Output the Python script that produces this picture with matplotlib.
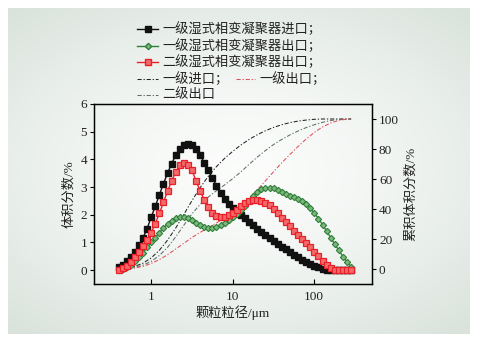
import numpy as np
import matplotlib
matplotlib.use("Agg")
import matplotlib.pyplot as plt
from matplotlib.lines import Line2D
from matplotlib.ticker import FixedLocator, NullLocator, FixedFormatter

plt.rcParams['font.family'] = ['Liberation Serif', 'Noto Sans CJK SC']
plt.rcParams['axes.unicode_minus'] = False

# particle size classes (um)
size_um = [0.400, 0.449, 0.504, 0.565, 0.634, 0.711, 0.798, 0.896, 1.005, 1.127,
           1.265, 1.419, 1.592, 1.787, 2.005, 2.249, 2.524, 2.832, 3.177, 3.565,
           4.00, 4.49, 5.04, 5.65, 6.34, 7.11, 7.98, 8.96, 10.05, 11.27,
           12.65, 14.19, 15.92, 17.87, 20.05, 22.49, 25.24, 28.32, 31.77, 35.65,
           40.0, 44.9, 50.4, 56.5, 63.4, 71.1, 79.8, 89.6, 100.5, 112.7,
           126.5, 141.9, 159.2, 178.7, 200.5, 224.9, 252.4, 283.2]

# volume fraction (%) per class
inlet1 = [0.12, 0.20, 0.32, 0.47, 0.66, 0.90, 1.17, 1.50, 1.92, 2.30,
          2.72, 3.12, 3.50, 3.85, 4.15, 4.38, 4.52, 4.57, 4.52, 4.38,
          4.15, 3.88, 3.60, 3.32, 3.05, 2.80, 2.58, 2.40, 2.25, 2.12,
          2.00, 1.87, 1.74, 1.62, 1.50, 1.38, 1.27, 1.16, 1.05, 0.95,
          0.85, 0.75, 0.65, 0.56, 0.47, 0.38, 0.30, 0.22, 0.15, 0.10,
          0.05, 0.02, 0.0, 0.0, 0.0, 0.0, 0.0, 0.0]
outlet1 = [0.00, 0.04, 0.10, 0.20, 0.32, 0.47, 0.63, 0.82, 1.00, 1.17,
           1.35, 1.52, 1.67, 1.79, 1.87, 1.91, 1.92, 1.88, 1.81, 1.71,
           1.62, 1.55, 1.51, 1.51, 1.55, 1.62, 1.70, 1.80, 1.91, 2.03,
           2.16, 2.32, 2.50, 2.67, 2.82, 2.93, 2.98, 2.98, 2.95, 2.89,
           2.82, 2.75, 2.69, 2.63, 2.57, 2.50, 2.39, 2.24, 2.06, 1.86,
           1.64, 1.41, 1.17, 0.94, 0.71, 0.49, 0.29, 0.12]
outlet2 = [0.00, 0.06, 0.16, 0.30, 0.47, 0.67, 0.87, 1.10, 1.35, 1.68,
           2.05, 2.45, 2.85, 3.22, 3.55, 3.78, 3.86, 3.80, 3.60, 3.22,
           2.86, 2.53, 2.27, 2.08, 1.96, 1.91, 1.92, 1.98, 2.07, 2.18,
           2.30, 2.42, 2.51, 2.55, 2.55, 2.51, 2.44, 2.34, 2.21, 2.06,
           1.90, 1.74, 1.58, 1.42, 1.27, 1.12, 0.97, 0.82, 0.66, 0.50,
           0.34, 0.19, 0.07, 0.01, 0.0, 0.0, 0.0, 0.0]

# cumulative volume fraction (%) at classes 0,2,4,...,56,57
cum_idx = list(range(0, 58, 2)) + [57]
cum_inlet1 = [0.1, 0.6, 1.8, 3.9, 7.4, 12.5, 19.2, 27.3, 36.4, 45.6,
              54.3, 61.9, 68.3, 73.8, 78.5, 82.7, 86.4, 89.5, 92.2, 94.4,
              96.2, 97.6, 98.6, 99.3, 99.8, 100, 100, 100, 100, 100]
cum_outlet1 = [0, 0.1, 0.7, 1.8, 3.7, 6.3, 9.5, 13.3, 17.2, 21.0,
               24.4, 27.6, 30.7, 34.1, 37.9, 42.2, 47.2, 52.8, 58.8, 64.9,
               70.8, 76.4, 81.7, 86.7, 91.1, 94.7, 97.4, 99.1, 99.9, 100]
cum_outlet2 = [0, 0.2, 1.0, 2.6, 5.1, 9.0, 14.4, 21.4, 29.2, 36.8,
               43.1, 48.0, 52.2, 56.1, 60.3, 64.8, 69.8, 74.6, 79.0, 83.0,
               86.4, 89.4, 92.0, 94.3, 96.2, 97.8, 99.0, 99.7, 100, 100]

labels = ['一级湿式相变凝聚器进口；', '一级湿式相变凝聚器出口；', '二级湿式相变凝聚器出口；',
          '一级进口；', '一级出口；', '二级出口']

W, H = 479, 342
fig = plt.figure(figsize=(W / 100, H / 100), dpi=100)
fig.patch.set_facecolor('white')

# background gradient panel
bg = fig.add_axes([8 / W, 8 / H, 462 / W, 326 / H], zorder=-5)
yy, xx = np.mgrid[-1:1:200j, -1:1:280j]
r = np.clip(np.sqrt((xx * 0.9) ** 2 + (yy * 1.0) ** 2), 0, 1.3) / 1.3
c0 = np.array([0.985, 0.99, 0.985])
c1 = np.array([0.855, 0.89, 0.865])
img = c0[None, None, :] * (1 - r[..., None] ** 1.5) + c1[None, None, :] * (r[..., None] ** 1.5)
bg.imshow(img, aspect='auto', extent=[0, 1, 0, 1])
bg.axis('off')

ax = fig.add_axes([94 / W, (H - 284) / H, (372 - 94) / W, (284 - 104) / H])
ax2 = ax.twinx()
ax.set_zorder(ax2.get_zorder() + 1)
ax.patch.set_visible(False)
ax2.patch.set_visible(False)

c_black = '#111111'
c_green = '#2f7f3a'
c_red = '#e8202a'
c_gray = '#5f6e66'
c_rdash = '#e0505a'
g_face = '#7cb87c'
r_face = '#f26a6a'

dash = (0, (4, 1.8, 1.2, 1.8))
cx = [size_um[i] for i in cum_idx]
ax2.plot(cx, cum_inlet1, color='#222222', lw=0.75, ls=dash)
ax2.plot(cx, cum_outlet2, color=c_gray, lw=0.75, ls=dash)
ax2.plot(cx, cum_outlet1, color=c_rdash, lw=0.75, ls=dash)

ax.plot(size_um, inlet1, color=c_black, lw=1.0, marker='s', ms=3.7, mfc=c_black, mec=c_black)
ax.plot(size_um, outlet1, color=c_green, lw=1.0, marker='D', ms=3.2, mfc=g_face, mec=c_green, mew=0.8)
ax.plot(size_um, outlet2, color=c_red, lw=1.0, marker='s', ms=4.0, mfc=r_face, mec=c_red, mew=0.9)

ax.set_xscale('log')
ax.set_xlim(0.2, 510)
ax.set_ylim(-0.5, 6)
ax2.set_ylim(-10, 110)
ax.xaxis.set_major_locator(FixedLocator([1, 10, 100]))
ax.xaxis.set_major_formatter(FixedFormatter(['1', '10', '100']))
ax.xaxis.set_minor_locator(NullLocator())
ax.set_yticks([0, 1, 2, 3, 4, 5, 6])
ax2.set_yticks([0, 20, 40, 60, 80, 100])

fs = 9.5
tc = '#222222'
ax.tick_params(axis='x', direction='in', length=3.5, width=0.8, labelsize=fs, pad=5, top=False, labelcolor=tc)
ax.tick_params(axis='y', direction='out', length=3, width=0.8, labelsize=fs, pad=2, labelcolor=tc)
ax2.tick_params(axis='y', direction='out', length=3, width=0.8, labelsize=fs, pad=2, labelcolor=tc)
for a in (ax, ax2):
    for s in a.spines.values():
        s.set_linewidth(0.9)

ax.set_xlabel('颗粒粒径/μm', fontsize=fs, labelpad=2, color=tc)
ax.set_ylabel('体积分数/%', fontsize=fs, labelpad=4, color=tc)
ax2.set_ylabel('累积体积分数/%', fontsize=fs, labelpad=4, color=tc)

# legend drawn in figure coordinates
def fy(y):
    return 1 - y / H

def leg_entry(x0, x1, y, text, color, ls='-', marker=None, ms=3.4, mfc=None, mec=None, lw=1.0):
    fig.add_artist(Line2D([x0 / W, x1 / W], [fy(y), fy(y)], color=color, lw=lw, ls=ls,
                          transform=fig.transFigure))
    if marker:
        fig.add_artist(Line2D([(x0 + x1) / 2 / W], [fy(y)], color=color, marker=marker, ms=ms,
                              mfc=mfc, mec=mec, transform=fig.transFigure))
    fig.text((x1 + 4) / W, fy(y), text, fontsize=fs, va='center', ha='left', color=tc)

leg_entry(137, 158, 29, labels[0], c_black, marker='s', ms=3.7, mfc=c_black, mec=c_black)
leg_entry(137, 158, 46, labels[1], c_green, marker='D', ms=3.2, mfc=g_face, mec=c_green)
leg_entry(137, 158, 62, labels[2], c_red, marker='s', ms=4.0, mfc=r_face, mec=c_red)
leg_entry(137, 158, 79, labels[3], '#222222', ls=dash, lw=0.75)
leg_entry(236, 255, 79, labels[4], c_rdash, ls=dash, lw=0.75)
leg_entry(137, 158, 95, labels[5], c_gray, ls=dash, lw=0.75)

fig.savefig('out.png', dpi=100, facecolor=fig.get_facecolor())
